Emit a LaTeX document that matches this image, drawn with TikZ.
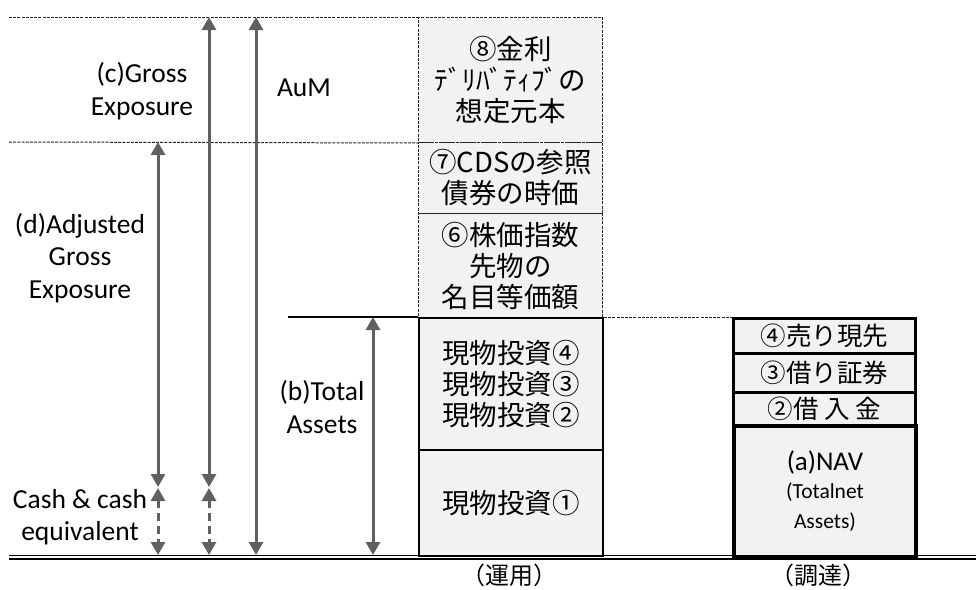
\documentclass[tikz,border=0pt]{standalone}
\usepackage{fontspec}
\setmainfont{Carlito}
\newfontfamily\jp{Noto Sans CJK JP}
\usetikzlibrary{arrows.meta}
\definecolor{boxgray}{HTML}{F2F2F2}
\definecolor{arrgray}{HTML}{606060}
\begin{document}
\begin{tikzpicture}[x=1pt,y=-1pt,
  lbl/.style={font=\fontsize{27.5}{32.5}\selectfont, align=center, inner sep=0pt},
  jbox/.style={fill=boxgray, font=\jp\fontsize{27.5}{31}\selectfont, align=center, inner sep=0pt, anchor=north west, minimum width=184pt},
  dbox/.style={jbox, draw=black!85, dash pattern=on 3pt off 1.2pt, line width=1pt},
  sbox/.style={jbox, draw=black, line width=2pt},
  rbox/.style={jbox, draw=black, line width=2.5pt, minimum width=182pt, font=\jp\fontsize{25.5}{30}\selectfont},
  navbox/.style={rbox, line width=4pt},
  dline/.style={draw=black!85, dash pattern=on 3pt off 1.2pt, line width=1pt},
  arr/.style={draw=arrgray, line width=3pt, {Triangle[width=14pt,length=13pt]}-{Triangle[width=14pt,length=13pt]}},
  darr/.style={arr, dash pattern=on 8pt off 5pt},
  ground/.style={draw=black, line width=1.5pt},
  foot/.style={font=\jp\fontsize{24}{28}\selectfont, inner sep=0pt}
]
\useasboundingbox (0,0) rectangle (976,589);

% left column boxes
\node[dbox, minimum height=125pt] (b8) at (418,17) {⑧金利\\ﾃﾞﾘﾊﾞﾃｨﾌﾞの\\想定元本};
\node[dbox, minimum height=71pt] (b7) at (418,142) {⑦CDSの参照\\債券の時価};
\node[dbox, minimum height=104pt] (b6) at (418,213) {⑥株価指数\\先物の\\名目等価額};
\node[sbox, minimum height=132pt] (b4) at (418,317) {現物投資④\\現物投資③\\現物投資②};
\node[sbox, minimum height=106pt] (b1) at (418,449) {現物投資①};

% right column boxes
\node[rbox, minimum height=35pt] (r4) at (732,317) {④売り現先};
\node[rbox, minimum height=39pt] (r3) at (732,352) {③借り証券};
\node[rbox, minimum height=33pt] (r2) at (732,391) {②借 入 金};
\node[navbox, minimum height=131pt, align=center] (nav) at (732,424)
  {\fontspec{Carlito}\fontsize{27}{32}\selectfont (a)NAV\\[-2pt]
   \fontspec{Carlito}\fontsize{21.5}{32}\selectfont (Totalnet\\ \fontspec{Carlito}\fontsize{21.5}{32}\selectfont Assets)};

% guide lines
\coordinate (t1) at (9,17);
\coordinate (t2) at (9,142);
\coordinate (t3) at (288,317);
\draw[dline] (t1) -- (b8.north west);
\draw[dline] (t2) -- (b8.south west);
\draw[draw=black, line width=2pt] (t3) -- (b4.north west);
\draw[dline] (b4.north east) -- (r4.north west);

% ground double line
\coordinate (g1) at (9,555.5);
\coordinate (g2) at (976,555.5);
\coordinate (g3) at (9,559);
\coordinate (g4) at (976,559);
\draw[ground] (g1) -- (g2);
\draw[ground, line width=1.1pt] (g3) -- (g4);

% arrows
\coordinate (dT) at (158,142);
\coordinate (dM) at (158,487);
\coordinate (dN) at (158,488);
\coordinate (dB) at (158,555);
\coordinate (cT) at (209,17);
\coordinate (cM) at (209,487);
\coordinate (cN) at (209,488);
\coordinate (cB) at (209,555);
\coordinate (aT) at (256,17);
\coordinate (aB) at (256,555);
\coordinate (bT) at (373,317);
\coordinate (bB) at (373,555);
\draw[arr] (dT) -- (dM);
\draw[darr] (dN) -- (dB);
\draw[arr] (cT) -- (cM);
\draw[darr] (cN) -- (cB);
\draw[arr] (aT) -- (aB);
\draw[arr] (bT) -- (bB);

% labels
\node[lbl] (tc) at (142,91) {(c)Gross\\Exposure};
\node[lbl] (ta) at (304,88) {AuM};
\node[lbl] (td) at (80,258) {(d)Adjusted\\Gross\\Exposure};
\node[lbl] (tb) at (322,407) {(b)Total\\Assets};
\node[lbl] (tcash) at (80,517) {Cash \& cash\\equivalent};

\node[foot] (f1) at (509,575) {（運用）};
\node[foot] (f2) at (818,575) {（調達）};
\end{tikzpicture}
\end{document}
